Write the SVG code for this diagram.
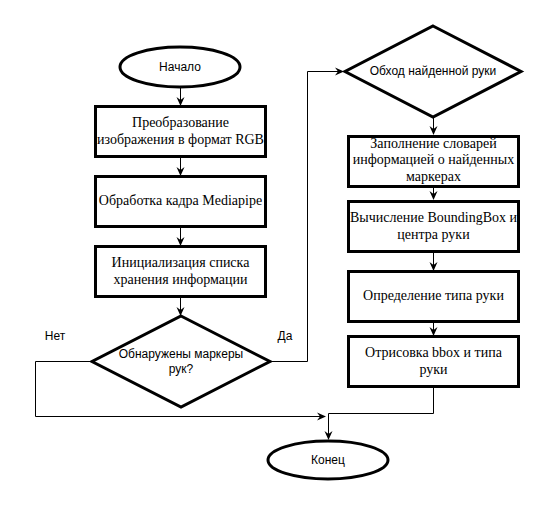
<svg xmlns="http://www.w3.org/2000/svg" width="547" height="507" viewBox="0 0 547 507">
<defs>
<marker id="arr" markerWidth="10" markerHeight="10" refX="8" refY="5" orient="auto" markerUnits="userSpaceOnUse">
<path d="M0,1 L9,5 L0,9 L3,5 Z" fill="#000"/>
</marker>
<style>
.sh{fill:#fff;stroke:#000;stroke-width:3}
.ser{font-family:"Liberation Serif","Times New Roman",serif;font-size:14px;fill:#000;text-anchor:middle}
.san{font-family:"Liberation Sans",Arial,sans-serif;font-size:12px;fill:#000;text-anchor:middle}
.c{fill:none;stroke:#000;stroke-width:1}
</style>
</defs>
<rect width="547" height="507" fill="#fff"/>
<g id="connectors">
<path class="c" d="M180.5,87 V105" marker-end="url(#arr)"/>
<path class="c" d="M180.5,157 V175" marker-end="url(#arr)"/>
<path class="c" d="M180.5,227 V245" marker-end="url(#arr)"/>
<path class="c" d="M180.5,297 V315" marker-end="url(#arr)"/>
<path class="c" d="M270,361.5 H307.5 V71.5 H343" marker-end="url(#arr)"/>
<path class="c" d="M92,361.5 H35.5 V416.5 H325" marker-end="url(#arr)"/>
<path class="c" d="M433.5,117 V134" marker-end="url(#arr)"/>
<path class="c" d="M433.5,188 V199" marker-end="url(#arr)"/>
<path class="c" d="M433.5,253 V270" marker-end="url(#arr)"/>
<path class="c" d="M433.5,322 V335" marker-end="url(#arr)"/>
<path class="c" d="M433.5,387 V413.5 H328.5 V439" marker-end="url(#arr)"/>
<text class="san" x="55" y="340">Нет</text>
<text class="san" x="285" y="340">Да</text>
</g>
<g id="start">
<ellipse class="sh" cx="180" cy="67" rx="60" ry="20"/>
<text class="san" x="180" y="71">Начало</text>
</g>
<g id="rgb">
<rect class="sh" x="95.5" y="106.5" width="170" height="50"/>
<text class="ser" x="180.5" y="127">Преобразование</text>
<text class="ser" x="180.5" y="144">изображения в формат RGB</text>
</g>
<g id="mediapipe">
<rect class="sh" x="95.5" y="176.5" width="170" height="50"/>
<text class="ser" x="180.5" y="205">Обработка кадра Mediapipe</text>
</g>
<g id="init">
<rect class="sh" x="95.5" y="246.5" width="170" height="50"/>
<text class="ser" x="180.5" y="267">Инициализация списка</text>
<text class="ser" x="180.5" y="284">хранения информации</text>
</g>
<g id="detected">
<polygon class="sh" points="181,316 270,361.5 181,407 92,361.5"/>
<text class="san" x="181" y="358">Обнаружены маркеры</text>
<text class="san" x="181" y="373">рук?</text>
</g>
<g id="loop">
<polygon class="sh" points="433,26 521,71.5 433,117 345,71.5"/>
<text class="san" x="433" y="75">Обход найденной руки</text>
</g>
<g id="fill">
<rect class="sh" x="348.5" y="136.5" width="170" height="50"/>
<text class="ser" x="433.5" y="148">Заполнение словарей</text>
<text class="ser" x="433.5" y="164">информацией о найденных</text>
<text class="ser" x="433.5" y="181">маркерах</text>
</g>
<g id="bbox">
<rect class="sh" x="348.5" y="201.5" width="170" height="50"/>
<text class="ser" x="433.5" y="222">Вычисление BoundingBox и</text>
<text class="ser" x="433.5" y="239">центра руки</text>
</g>
<g id="type">
<rect class="sh" x="348.5" y="271.5" width="170" height="50"/>
<text class="ser" x="433.5" y="300">Определение типа руки</text>
</g>
<g id="draw">
<rect class="sh" x="348.5" y="336.5" width="170" height="50"/>
<text class="ser" x="433.5" y="357">Отрисовка bbox и типа</text>
<text class="ser" x="433.5" y="374">руки</text>
</g>
<g id="end">
<ellipse class="sh" cx="328" cy="460" rx="60" ry="19"/>
<text class="san" x="328" y="464">Конец</text>
</g>
</svg>
